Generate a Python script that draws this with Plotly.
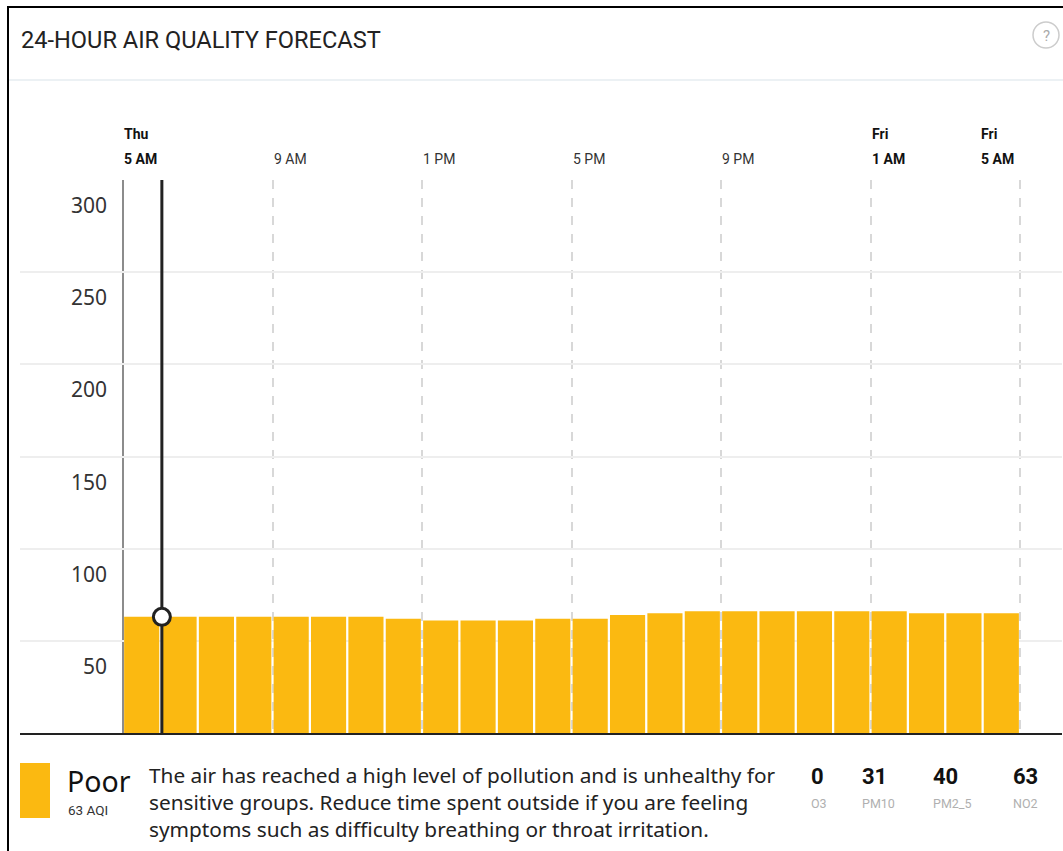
import plotly.graph_objects as go

# ---------------- data ----------------
hours = list(range(24))
aqi_values = [63, 63, 63, 63, 63, 63, 63, 62, 61, 61, 61, 62,
              62, 64, 65, 66, 66, 66, 66, 66, 66, 65, 65, 65]
y_tick_values = [50, 100, 150, 200, 250, 300]
y_tick_labels = ["50", "100", "150", "200", "250", "300"]
x_label_positions = [-0.5, 3.5, 7.5, 11.5, 15.5, 19.5, 23.5]
x_label_days = ["Thu", "", "", "", "", "Fri", "Fri"]
x_label_times = ["5 AM", "9 AM", "1 PM", "5 PM", "9 PM", "1 AM", "5 AM"]
x_label_bold = [True, False, False, False, False, True, True]
pollutant_names = ["O3", "PM10", "PM2_5", "NO2"]
pollutant_values = [0, 31, 40, 63]
category_name = "Poor"
current_aqi = 63
description_lines = [
    "The air has reached a high level of pollution and is unhealthy for",
    "sensitive groups. Reduce time spent outside if you are feeling",
    "symptoms such as difficulty breathing or throat irritation.",
]
title_text = "24-HOUR AIR QUALITY FORECAST"

# ---------------- style ----------------
W, H = 1063, 851
PL, PR, PT, PB = 20, 1062, 180, 733        # plot area in pixels
BAR_COLOR = "#FBB911"
CURSOR_X = 0.54
X_RANGE = [(PL - 123) / 37.375 - 0.5, (PR - 123) / 37.375 - 0.5]


def px(x):
    return (x - PL) / (PR - PL)


def py(y):
    return (PB - y) / (PB - PT)


fig = go.Figure()

fig.add_trace(go.Bar(
    x=hours, y=aqi_values, marker=dict(color=BAR_COLOR, line=dict(width=0)),
    hoverinfo="skip", showlegend=False,
))

# cursor line + point
fig.add_trace(go.Scatter(
    x=[CURSOR_X, CURSOR_X], y=[0, 300], mode="lines",
    line=dict(color="#222222", width=3), hoverinfo="skip", showlegend=False,
))
fig.add_trace(go.Scatter(
    x=[CURSOR_X], y=[aqi_values[0]], mode="markers",
    marker=dict(size=17, color="white", line=dict(color="#222222", width=3)),
    hoverinfo="skip", showlegend=False,
))

annotations = []

# title
annotations.append(dict(
    xref="paper", yref="paper", x=px(19), y=py(40), xanchor="left", yanchor="middle",
    text=title_text, showarrow=False,
    font=dict(family="Roboto", size=23.6, color="#222222"),
))
# question mark
annotations.append(dict(
    xref="paper", yref="paper", x=px(1046), y=py(36), xanchor="center", yanchor="middle",
    text="?", showarrow=False,
    font=dict(family="Roboto", size=15, color="#aaaaaa"),
))

# y labels (placed just below their gridlines)
for v, t in zip(y_tick_values, y_tick_labels):
    annotations.append(dict(
        xref="x", yref="y", x=-0.5, y=v, xanchor="right", yanchor="middle",
        xshift=-14, yshift=-25, text=t, showarrow=False,
        font=dict(family="Noto Sans", size=21, color="#333333"),
    ))

# x labels (left aligned on the dashed lines; last one pulled inside)
for i, (xp, d, t, b) in enumerate(zip(x_label_positions, x_label_days, x_label_times, x_label_bold)):
    last = i == len(x_label_positions) - 1
    shift = -41 if last else -1
    col = "#111111" if b else "#333333"
    for txt, ys in ((d, 46), (t, 21)):
        if not txt:
            continue
        annotations.append(dict(
            xref="x", yref="paper", x=xp, y=1, xanchor="left", yanchor="middle",
            xshift=shift, yshift=ys, showarrow=False,
            text=f"<b>{txt}</b>" if b else txt,
            font=dict(family="Roboto", size=14, color=col),
        ))

# bottom legend
annotations.append(dict(
    xref="paper", yref="paper", x=px(65), y=py(781), xanchor="left", yanchor="middle",
    text=category_name, showarrow=False,
    font=dict(family="Noto Sans", size=28.5, color="#111111"),
))
annotations.append(dict(
    xref="paper", yref="paper", x=px(66), y=py(810), xanchor="left", yanchor="middle",
    text=f"{current_aqi} AQI", showarrow=False,
    font=dict(family="Roboto", size=13.5, color="#333333"),
))
for j, line in enumerate(description_lines):
    annotations.append(dict(
        xref="paper", yref="paper", x=px(147), y=py(775 + 27 * j), xanchor="left", yanchor="middle",
        text=line, showarrow=False,
        font=dict(family="Noto Sans", size=20.8, color="#222222"),
    ))
poll_x = [809, 860, 931, 1011]
for xp_, name, val in zip(poll_x, pollutant_names, pollutant_values):
    annotations.append(dict(
        xref="paper", yref="paper", x=px(xp_), y=py(776), xanchor="left", yanchor="middle",
        text=f"<b>{val}</b>", showarrow=False,
        font=dict(family="Roboto", size=22, color="#111111"),
    ))
    annotations.append(dict(
        xref="paper", yref="paper", x=px(xp_), y=py(803), xanchor="left", yanchor="middle",
        text=name, showarrow=False,
        font=dict(family="Roboto", size=12.5, color="#b0b0b0"),
    ))

shapes = [
    # card border
    dict(type="line", xref="paper", yref="paper", x0=px(8), x1=px(8), y0=py(6), y1=py(860),
         line=dict(color="#000000", width=2)),
    dict(type="line", xref="paper", yref="paper", x0=px(7), x1=px(1070), y0=py(7), y1=py(7),
         line=dict(color="#000000", width=2)),
    # header separator
    dict(type="line", xref="paper", yref="paper", x0=px(9), x1=px(1070), y0=py(80), y1=py(80),
         line=dict(color="#e6ecf0", width=1.5)),
    # help circle
    dict(type="circle", xref="paper", yref="paper", x0=px(1033), x1=px(1059), y0=py(22), y1=py(48),
         line=dict(color="#cccccc", width=1.5)),
    # left solid axis marker
    dict(type="line", xref="x", yref="paper", x0=-0.5, x1=-0.5, y0=0, y1=1,
         line=dict(color="#666666", width=1.5), layer="below"),
    # legend swatch
    dict(type="rect", xref="paper", yref="paper", x0=px(20), x1=px(50), y0=py(763), y1=py(818),
         fillcolor=BAR_COLOR, line=dict(width=0)),
]

fig.update_layout(
    width=W, height=H,
    margin=dict(l=PL, r=W - PR, t=PT, b=H - PB, pad=0),
    paper_bgcolor="white", plot_bgcolor="white",
    bargap=0.06,
    showlegend=False,
    annotations=annotations,
    shapes=shapes,
    xaxis=dict(
        range=X_RANGE, tickvals=x_label_positions[1:], showticklabels=False,
        showgrid=True, gridcolor="#d8d8d8", griddash="dash", gridwidth=1.5,
        zeroline=False, showline=True, linecolor="#222222", linewidth=2,
        ticks="", fixedrange=True,
    ),
    yaxis=dict(
        range=[0, 300], tickvals=y_tick_values, showticklabels=False,
        showgrid=True, gridcolor="#eeeeee", gridwidth=2,
        zeroline=False, ticks="", fixedrange=True,
    ),
)

fig.write_html("out.html", config={"displayModeBar": False},
               post_script="document.body.style.margin='0';document.body.style.overflow='hidden';")
